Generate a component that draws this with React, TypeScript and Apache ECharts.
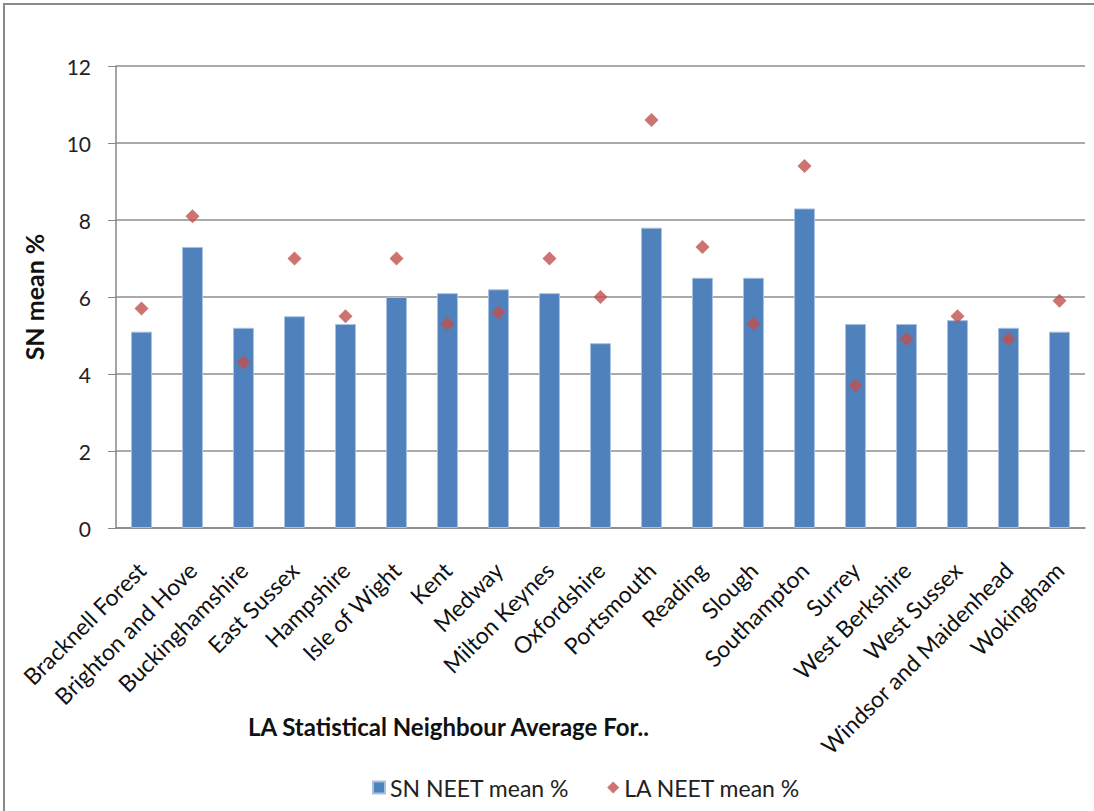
import React, { useEffect, useRef } from "react";
import * as echarts from "echarts";

const categories = [
  "Bracknell Forest", "Brighton and Hove", "Buckinghamshire", "East Sussex", "Hampshire",
  "Isle of Wight", "Kent", "Medway", "Milton Keynes", "Oxfordshire", "Portsmouth",
  "Reading", "Slough", "Southampton", "Surrey", "West Berkshire", "West Sussex",
  "Windsor and Maidenhead", "Wokingham",
];
const snNeetMean = [5.1, 7.3, 5.2, 5.5, 5.3, 6.0, 6.1, 6.2, 6.1, 4.8, 7.8, 6.5, 6.5, 8.3, 5.3, 5.3, 5.4, 5.2, 5.1];
const laNeetMean = [5.7, 8.1, 4.3, 7.0, 5.5, 7.0, 5.3, 5.6, 7.0, 6.0, 10.6, 7.3, 5.3, 9.4, 3.7, 4.9, 5.5, 4.9, 5.9];
const seriesNames = ["SN NEET mean %", "LA NEET mean %"];
const yAxisName = "SN mean %";
const xAxisName = "LA Statistical Neighbour Average For..";

const FONT = "Lato, 'Open Sans', sans-serif";

export default function App() {
  const ref = useRef<HTMLDivElement>(null);
  useEffect(() => {
    const chart = echarts.init(ref.current!, null, { renderer: "svg" });
    chart.setOption({
      animation: false,
      backgroundColor: "#ffffff",
      textStyle: { fontFamily: FONT },
      grid: { left: 116, right: 9, top: 66, bottom: 283, containLabel: false },
      legend: {
        top: 771,
        left: 367,
        itemGap: 38,
        itemWidth: 12,
        itemHeight: 12,
        textStyle: { fontFamily: FONT, fontSize: 23, color: "#222" },
        data: [
          { name: seriesNames[0], icon: "rect" },
          { name: seriesNames[1], icon: "diamond" },
        ],
      },
      xAxis: {
        type: "category",
        data: categories,
        axisLine: { lineStyle: { color: "#868686", width: 1.5 } },
        axisTick: { show: false },
        axisLabel: {
          rotate: 45,
          interval: 0,
          margin: 38,
          fontSize: 23,
          color: "#111",
          fontFamily: FONT,
        },
      },
      yAxis: {
        type: "value",
        min: 0,
        max: 12,
        interval: 2,
        name: yAxisName,
        nameLocation: "middle",
        nameGap: 70,
        nameRotate: 90,
        nameTextStyle: { fontSize: 25, fontWeight: "bold", color: "#111", fontFamily: FONT },
        axisLine: { show: true, lineStyle: { color: "#868686", width: 1.5 } },
        axisTick: { show: true, length: 8, inside: false, lineStyle: { color: "#868686" } },
        axisLabel: { fontSize: 21, color: "#222", margin: 25, fontFamily: FONT },
        splitLine: { lineStyle: { color: "#8f8f8f", width: 1.5 } },
      },
      series: [
        {
          name: seriesNames[0],
          type: "bar",
          data: snNeetMean,
          barWidth: "41%",
          itemStyle: { color: "#4F81BD", borderColor: "#a9c1e0", borderWidth: 1 },
        },
        {
          name: seriesNames[1],
          type: "scatter",
          data: laNeetMean,
          symbol: "diamond",
          symbolSize: 14,
          itemStyle: { color: "#C0504D" },
          z: 5,
        },
      ],
      graphic: [
        {
          type: "polyline",
          shape: { points: [[4, 900], [4, 4], [1200, 4]] },
          style: { stroke: "#8a8a8a", lineWidth: 2, fill: "none" },
        },
        {
          type: "text",
          left: 248,
          top: 714,
          style: {
            text: xAxisName,
            fontSize: 24,
            fontWeight: "bold",
            fill: "#111",
            fontFamily: FONT,
          },
        },
      ],
    });
    return () => chart.dispose();
  }, []);
  return (
    <div
      ref={ref}
      style={{ position: "absolute", left: 0, top: 0, width: 1094, height: 811 }}
    />
  );
}
